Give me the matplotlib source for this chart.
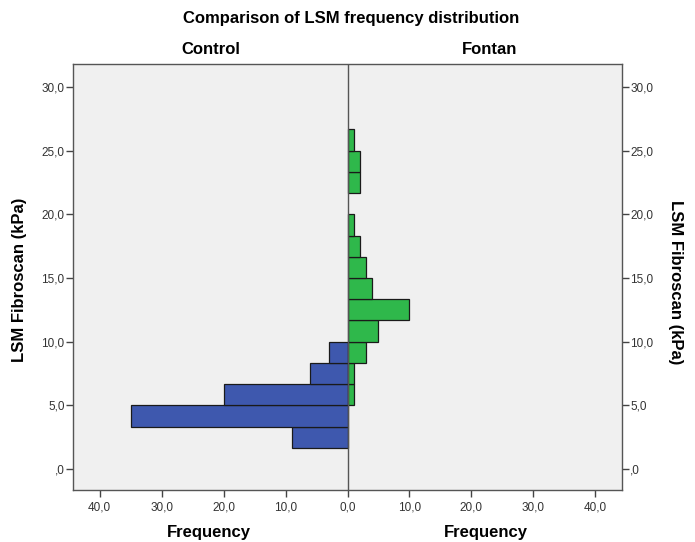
import matplotlib
matplotlib.use('agg')
import matplotlib.pyplot as plt
import numpy as np

plt.rcParams['font.family'] = ['Liberation Sans', 'DejaVu Sans']

# LSM bins of 5/3 kPa starting at 0 (bin index -> count)
bin_width = 5.0 / 3.0
control_bins = [1, 2, 3, 4, 5]
control_counts = [9, 35, 20, 6, 3]
fontan_bins = [3, 4, 5, 6, 7, 8, 9, 10, 11, 12, 13, 14, 15]
fontan_counts = [1, 1, 3, 5, 10, 4, 3, 2, 1, 0, 2, 2, 1]

y_ticks = [0, 5, 10, 15, 20, 25, 30]
x_ticks = [-40, -30, -20, -10, 0, 10, 20, 30, 40]


def fmt(v):
    return '{:.1f}'.format(abs(v)).replace('.', ',')


fig = plt.figure(figsize=(6.95, 5.42), dpi=100)
ax = fig.add_axes([73 / 695, 52 / 542, 549 / 695, 426 / 542])
ax.set_facecolor('#f0f0f0')

ctrl_y = np.array(control_bins) * bin_width
font_y = np.array(fontan_bins) * bin_width
fc = np.array(fontan_counts)
ax.barh(ctrl_y, -np.array(control_counts), height=bin_width, align='edge',
        color='#3e58ae', edgecolor='#1a1a1a', linewidth=0.9, zorder=2)
ax.barh(font_y[fc > 0], fc[fc > 0], height=bin_width, align='edge',
        color='#2fb84b', edgecolor='#1a1a1a', linewidth=0.9, zorder=2)
ax.axvline(0, color='#555555', linewidth=1.0, zorder=3)

ax.set_xlim(-44.3, 44.3)
ax.set_ylim(-1.65, 31.8)
ax.set_xticks(x_ticks)
ax.set_xticklabels([fmt(v) for v in x_ticks])
ax.set_yticks(y_ticks)
ax.set_yticklabels([',0' if v == 0 else fmt(v) for v in y_ticks])
ax.tick_params(axis='both', labelsize=8.5, labelcolor='#333333', color='#444444',
               length=5, width=1, direction='out')
ax.tick_params(axis='y', right=True, labelright=True, pad=1)
for sp in ax.spines.values():
    sp.set_color('#555555')
    sp.set_linewidth(1.0)

bold = dict(ha='center', va='center', fontsize=12, fontweight='bold')
fig.text(351 / 695, 1 - 19 / 542, 'Comparison of LSM frequency distribution', **bold)
fig.text(211 / 695, 1 - 49 / 542, 'Control', **bold)
fig.text(490 / 695, 1 - 49 / 542, 'Fontan', **bold)
fig.text(209 / 695, 1 - 533 / 542, 'Frequency', **bold)
fig.text(486 / 695, 1 - 533 / 542, 'Frequency', **bold)
fig.text(20 / 695, 1 - 280 / 542, 'LSM Fibroscan (kPa)', rotation=90, **bold)
fig.text(676 / 695, 1 - 282 / 542, 'LSM Fibroscan (kPa)', rotation=-90, **bold)

fig.savefig('out.png', dpi=100, facecolor='white')
